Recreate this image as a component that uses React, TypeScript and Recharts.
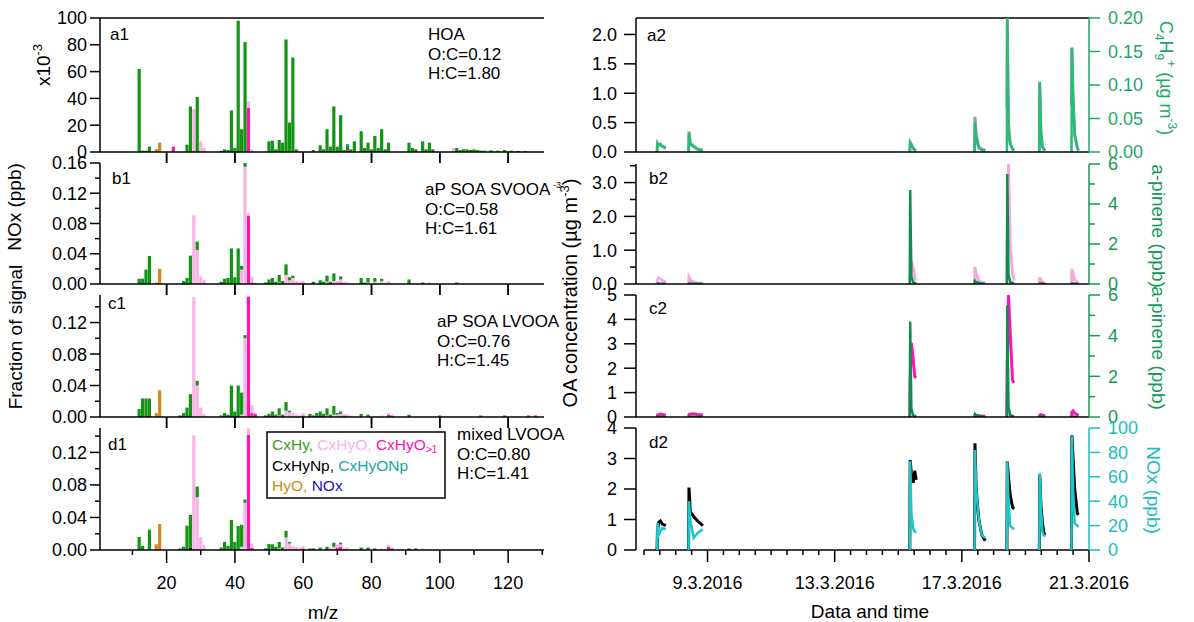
import React from "react";
import { BarChart, Bar, ComposedChart, Line, XAxis, YAxis, ReferenceLine } from "recharts";

const FONT = "'Liberation Sans', Arial, Helvetica, sans-serif";
const W = 1194;
const H = 622;

type Pair = [number, number][];

// ---- mass spectra, sparse [m/z, value] pairs per ion family ----
// a1 HOA (x10^-3)
const hoaCxHy: Pair = [[12,62],[13,1],[14,1],[15,4],[26,5.5],[27,34],[29,41],[36,1],[37,2],[38,1.5],[39,31],[40,3],[41,98],[42,17],[43,82],[50,8],[51,8.5],[52,2],[53,9],[54,7],[55,84],[56,22],[57,70.5],[58,2],[63,1.5],[65,5],[66,2],[67,17],[68,4],[69,34],[70,4],[71,27.5],[72,1.5],[73,3],[74,2],[75,8],[77,15.5],[78,3],[79,7],[80,2],[81,12],[82,3],[83,17],[84,2],[85,7],[91,7],[92,3],[93,2],[95,8],[96,2],[97,7],[98,2],[105,3],[106,1.5],[107,2],[108,2],[109,1.5],[110,2],[111,1.5],[112,1],[113,1],[115,1.2],[117,1],[119,1.5],[121,1],[123,0.8],[125,0.8]];
const hoaCxHyO: Pair = [[28,32],[30,8],[31,3],[44,5],[45,2],[104,3]];
const hoaCxHyO1: Pair = [[22,4],[44,33],[73,1.5]];
const hoaCxHyONp: Pair = [[73,1.5]];
const hoaHyO: Pair = [[17,2],[18,7]];

// b1 aP SOA SVOOA
const svCxHy: Pair = [[12,0.007],[13,0.007],[14,0.019],[15,0.037],[25,0.004],[26,0.008],[27,0.0375],[29,0.011],[36,0.003],[37,0.007],[38,0.008],[39,0.047],[40,0.009],[41,0.047],[42,0.005],[43,0.005],[49,0.002],[50,0.006],[51,0.008],[52,0.003],[53,0.01],[54,0.004],[55,0.014],[56,0.004],[57,0.003],[63,0.003],[65,0.005],[66,0.003],[67,0.008],[68,0.003],[69,0.01],[71,0.004],[77,0.008],[78,0.002],[79,0.006],[81,0.005],[83,0.003],[91,0.006],[95,0.002],[105,0.002]];
const svCxHyO: Pair = [[28,0.091],[29,0.045],[30,0.01],[31,0.005],[42,0.019],[43,0.155],[44,0.004],[45,0.008],[46,0.002],[53,0.002],[55,0.012],[56,0.005],[57,0.008],[58,0.004],[59,0.003],[60,0.003],[67,0.003],[69,0.004],[70,0.004],[71,0.004],[72,0.003],[73,0.002],[79,0.002],[81,0.003],[83,0.004],[84,0.002],[85,0.003],[97,0.002]];
const svCxHyO1: Pair = [[44,0.09],[45,0.002],[60,0.001],[71,0.002],[85,0.001]];
const svHyO: Pair = [[17,0.002],[18,0.02]];

// c1 aP SOA LVOOA
const lvCxHy: Pair = [[12,0.01],[13,0.0235],[14,0.0235],[15,0.0235],[24,0.002],[25,0.005],[26,0.012],[27,0.029],[29,0.006],[36,0.002],[37,0.005],[38,0.003],[39,0.04],[40,0.007],[41,0.04],[42,0.028],[43,0.004],[49,0.002],[50,0.004],[51,0.007],[52,0.003],[53,0.009],[54,0.003],[55,0.011],[56,0.002],[62,0.004],[63,0.002],[64,0.005],[65,0.007],[66,0.004],[67,0.009],[68,0.003],[69,0.011],[70,0.002],[71,0.003],[77,0.004],[79,0.003],[91,0.003]];
const lvCxHyO: Pair = [[28,0.152],[29,0.04],[30,0.012],[31,0.004],[42,0.003],[43,0.1],[45,0.01],[53,0.002],[55,0.008],[56,0.006],[57,0.005],[58,0.003],[59,0.002],[60,0.003],[67,0.002],[69,0.003],[70,0.003],[71,0.004],[72,0.002],[73,0.003],[74,0.002],[83,0.002],[85,0.002]];
const lvCxHyO1: Pair = [[44,0.153],[45,0.005],[46,0.004],[60,0.002],[72,0.002],[85,0.003],[86,0.002],[100,0.002],[112,0.002],[119,0.002],[126,0.002],[128,0.002]];
const lvHyO: Pair = [[17,0.005],[18,0.034]];

// d1 mixed LVOOA
const mxCxHy: Pair = [[12,0.016],[13,0.005],[15,0.025],[24,0.002],[25,0.004],[26,0.03],[27,0.04],[29,0.013],[36,0.003],[37,0.01],[38,0.005],[39,0.037],[40,0.01],[41,0.0295],[42,0.027],[43,0.004],[49,0.002],[50,0.0074],[51,0.007],[52,0.004],[53,0.008],[54,0.003],[55,0.008],[56,0.002],[62,0.002],[63,0.002],[65,0.003],[67,0.004],[69,0.005],[71,0.002],[77,0.003],[79,0.003],[81,0.002],[91,0.002],[93,0.002]];
const mxCxHyO: Pair = [[28,0.141],[29,0.065],[30,0.016],[31,0.006],[42,0.004],[43,0.058],[44,0.008],[45,0.005],[53,0.002],[55,0.0155],[56,0.008],[57,0.005],[58,0.004],[59,0.003],[60,0.003],[68,0.003],[69,0.004],[70,0.004],[71,0.003],[72,0.002],[73,0.003],[83,0.002],[85,0.002],[95,0.002]];
const mxCxHyO1: Pair = [[44,0.1415],[45,0.003],[60,0.002],[70,0.003],[71,0.004],[85,0.004],[86,0.002]];
const mxCxHyNp: Pair = [[27,0.003]];
const mxHyO: Pair = [[17,0.007],[18,0.032]];

// ---- time series: hours since 7.3.2016 00:00, null rows split the experiments ----
const timeH = [
  9.9, 10.2, 11.1, 12.4, 13.9, 16.5, 25,
  33.7, 34.0, 35.0, 37.5, 40.5, 44.5, 120,
  200.7, 201.0, 201.9, 203.2, 204.5, 205.5, 230,
  249.6, 249.9, 250.8, 252.8, 255.0, 257.7, 265,
  274.0, 274.3, 275.2, 276.5, 278.3, 279.5, 290,
  298.5, 298.8, 299.7, 300.8, 301.9, 303.0, 312,
  322.8, 323.1, 324.0, 325.2, 327.2, 328.0,
];
const hoaConc = [
  0, 0.15, 0.12, 0.13, 0.1, 0.08, null,
  0, 0.35, 0.15, 0.1, 0.05, 0.03, null,
  0, 0.15, 0.12, 0.06, 0.03, 0.02, null,
  0, 0.6, 0.3, 0.08, 0.05, 0.03, null,
  0.75, 2.25, 0.5, 0.15, 0.05, 0.03, null,
  0, 1.17, 0.35, 0.1, 0.05, 0.03, null,
  0.8, 1.78, 0.9, 0.3, 0.08, 0.03,
];
const c4h9Conc = [
  0, 0.014, 0.01, 0.012, 0.008, 0.005, null,
  0, 0.028, 0.012, 0.008, 0.004, 0.002, null,
  0, 0.015, 0.012, 0.006, 0.003, 0.002, null,
  0, 0.045, 0.02, 0.006, 0.003, 0.002, null,
  0, 0.2, 0.03, 0.012, 0.004, 0.002, null,
  0, 0.105, 0.03, 0.008, 0.004, 0.002, null,
  0, 0.155, 0.08, 0.025, 0.006, 0.002,
];
const svooaConc = [
  0, 0.12, 0.18, 0.15, 0.1, 0.05, null,
  0, 0.2, 0.12, 0.06, 0.03, 0.02, null,
  0, 0.2, 0.7, 0.5, 0.2, 0.1, null,
  0, 0.5, 0.3, 0.1, 0.05, 0.03, null,
  0, 1.5, 3.55, 1.2, 0.3, 0.1, null,
  0, 0.2, 0.12, 0.06, 0.03, 0.02, null,
  0, 0.45, 0.3, 0.12, 0.05, 0.02,
];
const aPinene = [
  0, 0.02, 0.02, 0.01, 0.01, 0, null,
  0, 0.02, 0.02, 0.01, 0.01, 0, null,
  0, 4.7, 0.4, 0.1, 0.05, 0.02, null,
  0, 0.15, 0.1, 0.05, 0.02, 0, null,
  0, 5.5, 0.5, 0.1, 0.05, 0.02, null,
  0, 0.02, 0.02, 0.01, 0.01, 0, null,
  0, 0.02, 0.02, 0.01, 0.01, 0,
];
const lvooaConc = [
  0, 0.08, 0.1, 0.12, 0.1, 0.08, null,
  0, 0.1, 0.12, 0.13, 0.1, 0.08, null,
  0, 1.5, 3.05, 2.4, 1.65, 1.6, null,
  0, 0.05, 0.06, 0.05, 0.04, 0.03, null,
  0, 2.0, 5.0, 3.5, 1.5, 1.4, null,
  0, 0.08, 0.1, 0.08, 0.06, 0.05, null,
  0, 0.2, 0.25, 0.15, 0.1, 0.05,
];
const mixedConc = [
  0, 0.6, 0.9, 0.95, 0.85, 0.8, null,
  0, 2.05, 1.25, 1.1, 0.95, 0.8, null,
  0, 2.95, 2.5, 2.2, 2.6, 2.3, null,
  0, 3.5, 2.0, 1.0, 0.5, 0.3, null,
  0, 2.9, 2.4, 1.8, 1.4, 1.35, null,
  0, 2.45, 1.5, 0.9, 0.55, 0.5, null,
  0, 3.75, 3.0, 2.0, 1.2, 1.15,
];
const noxPpb = [
  0, 22, 12, 15, 18, 17, null,
  0, 40, 25, 10, 14, 17, null,
  0, 73, 30, 18, 15, 14, null,
  0, 82, 50, 25, 12, 10, null,
  0, 72, 40, 20, 18, 17, null,
  0, 63, 35, 15, 12, 11, null,
  0, 93, 50, 22, 20, 19,
];

const dateTicks = [48, 144, 240, 336];
const dateLabels = ["9.3.2016", "13.3.2016", "17.3.2016", "21.3.2016"];
const mzMajor = [20, 40, 60, 80, 100, 120];
const mzAll = [10, 20, 30, 40, 50, 60, 70, 80, 90, 100, 110, 120, 130];

// colours
const GREEN = "#129512";
const PINK = "#f8b4e4";
const MAGENTA = "#ff14ac";
const TEAL = "#16a99a";
const ORANGE = "#cf8a14";
const NAVY = "#1a1aa6";

const FAMILIES = [
  { key: "cxhynp", color: "#000000" },
  { key: "cxhyo1", color: MAGENTA },
  { key: "cxhyo", color: PINK },
  { key: "cxhy", color: GREEN },
  { key: "cxhyonp", color: TEAL },
  { key: "hyo", color: ORANGE },
  { key: "nox", color: NAVY },
];

function buildSpectrum(parts: Record<string, Pair>) {
  const rows: Record<string, number>[] = [];
  for (let mz = 1; mz <= 130; mz++) {
    rows.push({ mz, cxhynp: 0, cxhyo1: 0, cxhyo: 0, cxhy: 0, cxhyonp: 0, hyo: 0, nox: 0 });
  }
  Object.keys(parts).forEach((k) => {
    parts[k].forEach(([mz, v]) => {
      rows[mz - 1][k] = v;
    });
  });
  return rows;
}

const specA = buildSpectrum({ cxhy: hoaCxHy, cxhyo: hoaCxHyO, cxhyo1: hoaCxHyO1, cxhyonp: hoaCxHyONp, hyo: hoaHyO });
const specB = buildSpectrum({ cxhy: svCxHy, cxhyo: svCxHyO, cxhyo1: svCxHyO1, hyo: svHyO });
const specC = buildSpectrum({ cxhy: lvCxHy, cxhyo: lvCxHyO, cxhyo1: lvCxHyO1, hyo: lvHyO });
const specD = buildSpectrum({ cxhy: mxCxHy, cxhyo: mxCxHyO, cxhyo1: mxCxHyO1, cxhynp: mxCxHyNp, hyo: mxHyO });

const tsRows = timeH.map((t, i) => ({
  t,
  hoa: hoaConc[i],
  c4h9: c4h9Conc[i],
  svooa: svooaConc[i],
  apin: aPinene[i],
  lvooa: lvooaConc[i],
  mixed: mixedConc[i],
  nox: noxPpb[i],
}));

const near = (list: number[], v: number) => list.some((m) => Math.abs(m - v) < 1e-6);

function leftTick(major: number[], fmt: (v: number) => string, majorLen: number, minorLen: number, gap: number, color = "#000") {
  return (p: any) => {
    const v = p.payload.value;
    const isMajor = near(major, v);
    const len = isMajor ? majorLen : minorLen;
    return (
      <g>
        <line x1={p.x - len} x2={p.x} y1={p.y} y2={p.y} stroke={color} strokeWidth={1.5} />
        {isMajor && (
          <text x={p.x - gap} y={p.y} dy="0.36em" textAnchor="end" fontSize={18} fontFamily={FONT} fill={color}>
            {fmt(v)}
          </text>
        )}
      </g>
    );
  };
}

function rightTick(major: number[], fmt: (v: number) => string, majorLen: number, minorLen: number, gap: number, color: string) {
  return (p: any) => {
    const v = p.payload.value;
    const isMajor = near(major, v);
    const len = isMajor ? majorLen : minorLen;
    return (
      <g>
        <line x1={p.x} x2={p.x + len} y1={p.y} y2={p.y} stroke={color} strokeWidth={1.5} />
        {isMajor && (
          <text x={p.x + gap} y={p.y} dy="0.36em" textAnchor="start" fontSize={18} fontFamily={FONT} fill={color}>
            {fmt(v)}
          </text>
        )}
      </g>
    );
  };
}

function bottomTick(major: number[], label: (v: number) => string, majorLen: number, minorLen: number) {
  return (p: any) => {
    const v = p.payload.value;
    const isMajor = near(major, v);
    const len = isMajor ? majorLen : minorLen;
    const txt = isMajor ? label(v) : "";
    return (
      <g>
        {len > 0 && <line x1={p.x} x2={p.x} y1={p.y} y2={p.y + len} stroke="#000" strokeWidth={1.5} />}
        <text x={p.x} y={p.y + 39} textAnchor="middle" fontSize={18} fontFamily={FONT} fill="#000">
          {txt}
        </text>
      </g>
    );
  };
}

// ticks of the panel above, hanging down to the top of this panel
function hangTick(len: number) {
  return (p: any) => (
    <g>
      <line x1={p.x} x2={p.x} y1={p.y - len} y2={p.y} stroke="#000" strokeWidth={1.5} />
      <text x={p.x} y={p.y} fontSize={1} fill="none">
        {""}
      </text>
    </g>
  );
}

const L_X0 = 100;
const L_X1 = 544;
const R_X0 = 636;
const R_X1 = 1089;
const AX = 1; // thickness reserved for each axis

interface SpecProps {
  data: Record<string, number>[];
  top: number;
  bottom: number;
  hangFrom?: number;
  yMax: number;
  yTicks: number[];
  yMajor: number[];
  fmt: (v: number) => string;
  last?: boolean;
  frame?: boolean;
}

function SpectrumPanel({ data, top, bottom, hangFrom, yMax, yTicks, yMajor, fmt, last, frame }: SpecProps) {
  const hang = hangFrom !== undefined ? top - hangFrom : 0;
  return (
    <div style={{ position: "absolute", left: 0, top: 0 }}>
      <BarChart
        width={W}
        height={H}
        data={data}
        margin={{ top: hang > 0 ? top - AX : top, bottom: H - bottom - AX, left: L_X0 - AX, right: W - L_X1 }}
      >
        <XAxis
          type="number"
          dataKey="mz"
          domain={[0.5, 130.5]}
          allowDataOverflow
          height={AX}
          ticks={last ? mzAll : mzMajor}
          interval={0}
          tickSize={0}
          tickMargin={0}
          tickLine={false}
          axisLine={{ stroke: "#000", strokeWidth: 1.5 }}
          tick={bottomTick(mzMajor, (v) => (last ? String(v) : ""), last ? 13 : 11, last ? 5 : 0)}
        />
        {hang > 0 && (
          <XAxis
            xAxisId="hang"
            orientation="top"
            type="number"
            dataKey="mz"
            domain={[0.5, 130.5]}
            allowDataOverflow
            height={AX}
            ticks={mzMajor}
            interval={0}
            tickSize={0}
            tickMargin={0}
            tickLine={false}
            axisLine={false}
            tick={hangTick(hang)}
          />
        )}
        <YAxis
          type="number"
          domain={[0, yMax]}
          allowDataOverflow
          width={AX}
          ticks={yTicks}
          interval={0}
          tickSize={0}
          tickMargin={0}
          tickLine={false}
          axisLine={{ stroke: "#000", strokeWidth: 1.5 }}
          tick={leftTick(yMajor, fmt, 10, 5, 13)}
        />
        {frame && <ReferenceLine y={yMax} stroke="#000" strokeWidth={1.5} />}
        {FAMILIES.map((f) => (
          <Bar key={f.key} dataKey={f.key} stackId="s" fill={f.color} barSize={3.2} isAnimationActive={false} />
        ))}
      </BarChart>
    </div>
  );
}

interface SeriesDef {
  key: string;
  color: string;
  axis: "L" | "R";
  width: number;
}

interface TimeProps {
  top: number;
  bottom: number;
  lMax: number;
  lTicks: number[];
  lMajor: number[];
  lFmt: (v: number) => string;
  rMax: number;
  rTicks: number[];
  rMajor: number[];
  rFmt: (v: number) => string;
  rColor: string;
  series: SeriesDef[];
  last?: boolean;
  frame?: boolean;
}

const timeTicks = Array.from({ length: 29 }, (_, i) => i * 12);

function TimePanel(p: TimeProps) {
  return (
    <div style={{ position: "absolute", left: 0, top: 0 }}>
      <ComposedChart
        width={W}
        height={H}
        data={tsRows}
        margin={{ top: p.top, bottom: H - p.bottom - AX, left: R_X0 - AX, right: W - R_X1 - AX }}
      >
        {p.last ? (
          <XAxis
            type="number"
            dataKey="t"
            domain={[-6, 336]}
            allowDataOverflow
            height={AX}
            ticks={timeTicks}
            interval={0}
            tickSize={0}
            tickMargin={0}
            tickLine={false}
            axisLine={false}
            tick={bottomTick(dateTicks, (v) => dateLabels[dateTicks.indexOf(v)] ?? "", 12, 5)}
          />
        ) : (
          <XAxis
            type="number"
            dataKey="t"
            domain={[-6, 336]}
            allowDataOverflow
            height={AX}
            tick={false}
            tickLine={false}
            axisLine={{ stroke: "#000", strokeWidth: 1.5 }}
          />
        )}
        <YAxis
          yAxisId="L"
          type="number"
          domain={[0, p.lMax]}
          allowDataOverflow
          width={AX}
          ticks={p.lTicks}
          interval={0}
          tickSize={0}
          tickMargin={0}
          tickLine={false}
          axisLine={{ stroke: "#000", strokeWidth: 1.5 }}
          tick={leftTick(p.lMajor, p.lFmt, 12, 6, 19)}
        />
        <YAxis
          yAxisId="R"
          orientation="right"
          type="number"
          domain={[0, p.rMax]}
          allowDataOverflow
          width={AX}
          ticks={p.rTicks}
          interval={0}
          tickSize={0}
          tickMargin={0}
          tickLine={false}
          axisLine={{ stroke: p.rColor, strokeWidth: 1.5 }}
          tick={rightTick(p.rMajor, p.rFmt, 11, 6, 19, p.rColor)}
        />
        {p.frame && <ReferenceLine yAxisId="L" y={p.lMax} stroke="#000" strokeWidth={1.5} />}
        {p.last && (
          <ReferenceLine
            yAxisId="L"
            segment={[{ x: 0, y: 0 }, { x: 336, y: 0 }]}
            stroke="#000"
            strokeWidth={1.5}
          />
        )}
        {p.series.map((s) => (
          <Line
            key={s.key}
            yAxisId={s.axis}
            type="linear"
            dataKey={s.key}
            stroke={s.color}
            strokeWidth={s.width}
            dot={false}
            activeDot={false}
            isAnimationActive={false}
          />
        ))}
      </ComposedChart>
    </div>
  );
}

const txt = { fontFamily: FONT, fill: "#000" };

function Labels() {
  const pl = (x: number, y: number, s: string) => (
    <text x={x} y={y} fontSize={17} {...txt}>
      {s}
    </text>
  );
  const note = (x: number, y: number, lines: string[]) =>
    lines.map((l, i) => (
      <text key={l} x={x} y={y + i * 19.5} fontSize={17} {...txt}>
        {l}
      </text>
    ));
  return (
    <svg width={W} height={H} style={{ position: "absolute", left: 0, top: 0, pointerEvents: "none" }}>
      {pl(110, 40, "a1")}
      {pl(112, 184, "b1")}
      {pl(108, 309, "c1")}
      {pl(108, 450, "d1")}
      {pl(647, 41, "a2")}
      {pl(649, 184, "b2")}
      {pl(649, 314, "c2")}
      {pl(649, 448, "d2")}

      {note(428, 40, ["HOA", "O:C=0.12", "H:C=1.80"])}
      {note(425, 195, ["aP SOA SVOOA", "O:C=0.58", "H:C=1.61"])}
      <text x={553} y={188} fontSize={9} {...txt}>-3</text>
      {note(437, 327, ["aP SOA LVOOA", "O:C=0.76", "H:C=1.45"])}
      {note(457, 440, ["mixed LVOOA", "O:C=0.80", "H:C=1.41"])}

      <rect x={267} y={432} width={178} height={66} fill="#fff" stroke="#000" strokeWidth={1.5} />
      <text x={272} y={450} fontSize={15.5} fontFamily={FONT}>
        <tspan fill="#3a9a2a">CxHy, </tspan>
        <tspan fill={PINK}>CxHyO, </tspan>
        <tspan fill={MAGENTA}>CxHyO</tspan>
        <tspan fill={MAGENTA} fontSize={10} dy={3}>&gt;1</tspan>
      </text>
      <text x={272} y={471} fontSize={15.5} fontFamily={FONT}>
        <tspan fill="#000">CxHyNp, </tspan>
        <tspan fill={TEAL}>CxHyONp</tspan>
      </text>
      <text x={272} y={491} fontSize={15.5} fontFamily={FONT}>
        <tspan fill={ORANGE}>HyO, </tspan>
        <tspan fill={NAVY}>NOx</tspan>
      </text>

      <text transform="translate(50,65) rotate(-90)" textAnchor="middle" fontSize={19} {...txt}>
        x10<tspan fontSize={13} dy={-8}>-3</tspan>
      </text>
      <text transform="translate(21,207) rotate(-90)" textAnchor="middle" fontSize={19} {...txt}>
        NOx (ppb)
      </text>
      <text transform="translate(22,337) rotate(-90)" textAnchor="middle" fontSize={19} {...txt}>
        Fraction of signal
      </text>
      <text transform="translate(577,293) rotate(-90)" textAnchor="middle" fontSize={20} {...txt}>
        OA concentration (µg m<tspan fontSize={13} dy={-8}>-3</tspan><tspan dy={8}>)</tspan>
      </text>
      <text x={323} y={619} textAnchor="middle" fontSize={19} {...txt}>
        m/z
      </text>
      <text x={870} y={618} textAnchor="middle" fontSize={19} {...txt}>
        Data and time
      </text>

      <text transform="translate(1160,78) rotate(90)" textAnchor="middle" fontSize={18} fontFamily={FONT} fill="#1ea866">
        C<tspan fontSize={12} dy={5}>4</tspan>
        <tspan dy={-5}>H</tspan>
        <tspan fontSize={12} dy={5}>9</tspan>
        <tspan fontSize={12} dy={-12}>+</tspan>
        <tspan dy={7}> (µg m</tspan>
        <tspan fontSize={12} dy={-8}>-3</tspan>
        <tspan dy={8}>)</tspan>
      </text>
      <text transform="translate(1152,226) rotate(90)" textAnchor="middle" fontSize={19} fontFamily={FONT} fill="#139a55">
        a-pinene (ppb)
      </text>
      <text transform="translate(1152,348) rotate(90)" textAnchor="middle" fontSize={19} fontFamily={FONT} fill="#139a55">
        a-pinene (ppb)
      </text>
      <text transform="translate(1147,490) rotate(90)" textAnchor="middle" fontSize={19} fontFamily={FONT} fill="#21bdbd">
        NOx (ppb)
      </text>
    </svg>
  );
}

const f2 = (v: number) => v.toFixed(2);
const f1 = (v: number) => v.toFixed(1);
const f0 = (v: number) => String(v);

export default function App() {
  return (
    <div style={{ position: "absolute", left: 0, top: 0, width: W, height: H, background: "#fff", fontFamily: FONT }}>
      <SpectrumPanel data={specA} top={18} bottom={152} yMax={100} yTicks={[0, 20, 40, 60, 80, 100]} yMajor={[0, 20, 40, 60, 80, 100]} fmt={f0} frame />
      <SpectrumPanel data={specB} top={163} bottom={284} hangFrom={152} yMax={0.16} yTicks={[0, 0.02, 0.04, 0.06, 0.08, 0.1, 0.12, 0.14, 0.16]} yMajor={[0, 0.04, 0.08, 0.12, 0.16]} fmt={f2} />
      <SpectrumPanel data={specC} top={295} bottom={417} hangFrom={284} yMax={0.155} yTicks={[0, 0.02, 0.04, 0.06, 0.08, 0.1, 0.12, 0.14]} yMajor={[0, 0.04, 0.08, 0.12]} fmt={f2} />
      <SpectrumPanel data={specD} top={428} bottom={550} hangFrom={417} yMax={0.15} yTicks={[0, 0.02, 0.04, 0.06, 0.08, 0.1, 0.12, 0.14]} yMajor={[0, 0.04, 0.08, 0.12]} fmt={f2} last />

      <TimePanel
        top={18} bottom={152} frame
        lMax={2.28} lTicks={[0, 0.5, 1, 1.5, 2]} lMajor={[0, 0.5, 1, 1.5, 2]} lFmt={f1}
        rMax={0.2} rTicks={[0, 0.05, 0.1, 0.15, 0.2]} rMajor={[0, 0.05, 0.1, 0.15, 0.2]} rFmt={f2} rColor="#1ea866"
        series={[
          { key: "hoa", color: "#9a9a9a", axis: "L", width: 3 },
          { key: "c4h9", color: "#27bd75", axis: "R", width: 2.5 },
        ]}
      />
      <TimePanel
        top={164} bottom={284}
        lMax={3.55} lTicks={[0, 0.5, 1, 1.5, 2, 2.5, 3, 3.5]} lMajor={[0, 1, 2, 3]} lFmt={f1}
        rMax={6} rTicks={[0, 1, 2, 3, 4, 5, 6]} rMajor={[0, 2, 4, 6]} rFmt={f0} rColor="#139a55"
        series={[
          { key: "svooa", color: "#f6a9dd", axis: "L", width: 3 },
          { key: "apin", color: "#0e8e4e", axis: "R", width: 2.5 },
        ]}
      />
      <TimePanel
        top={295} bottom={417}
        lMax={5} lTicks={[0, 1, 2, 3, 4, 5]} lMajor={[0, 1, 2, 3, 4, 5]} lFmt={f0}
        rMax={6} rTicks={[0, 1, 2, 3, 4, 5, 6]} rMajor={[0, 2, 4, 6]} rFmt={f0} rColor="#139a55"
        series={[
          { key: "lvooa", color: "#ff14b4", axis: "L", width: 3 },
          { key: "apin", color: "#0e8e4e", axis: "R", width: 2.5 },
        ]}
      />
      <TimePanel
        top={428} bottom={550} last
        lMax={4} lTicks={[0, 1, 2, 3, 4]} lMajor={[0, 1, 2, 3, 4]} lFmt={f0}
        rMax={100} rTicks={[0, 20, 40, 60, 80, 100]} rMajor={[0, 20, 40, 60, 80, 100]} rFmt={f0} rColor="#21bdbd"
        series={[
          { key: "mixed", color: "#000000", axis: "L", width: 3 },
          { key: "nox", color: "#1fc6c6", axis: "R", width: 2.5 },
        ]}
      />
      <Labels />
    </div>
  );
}
